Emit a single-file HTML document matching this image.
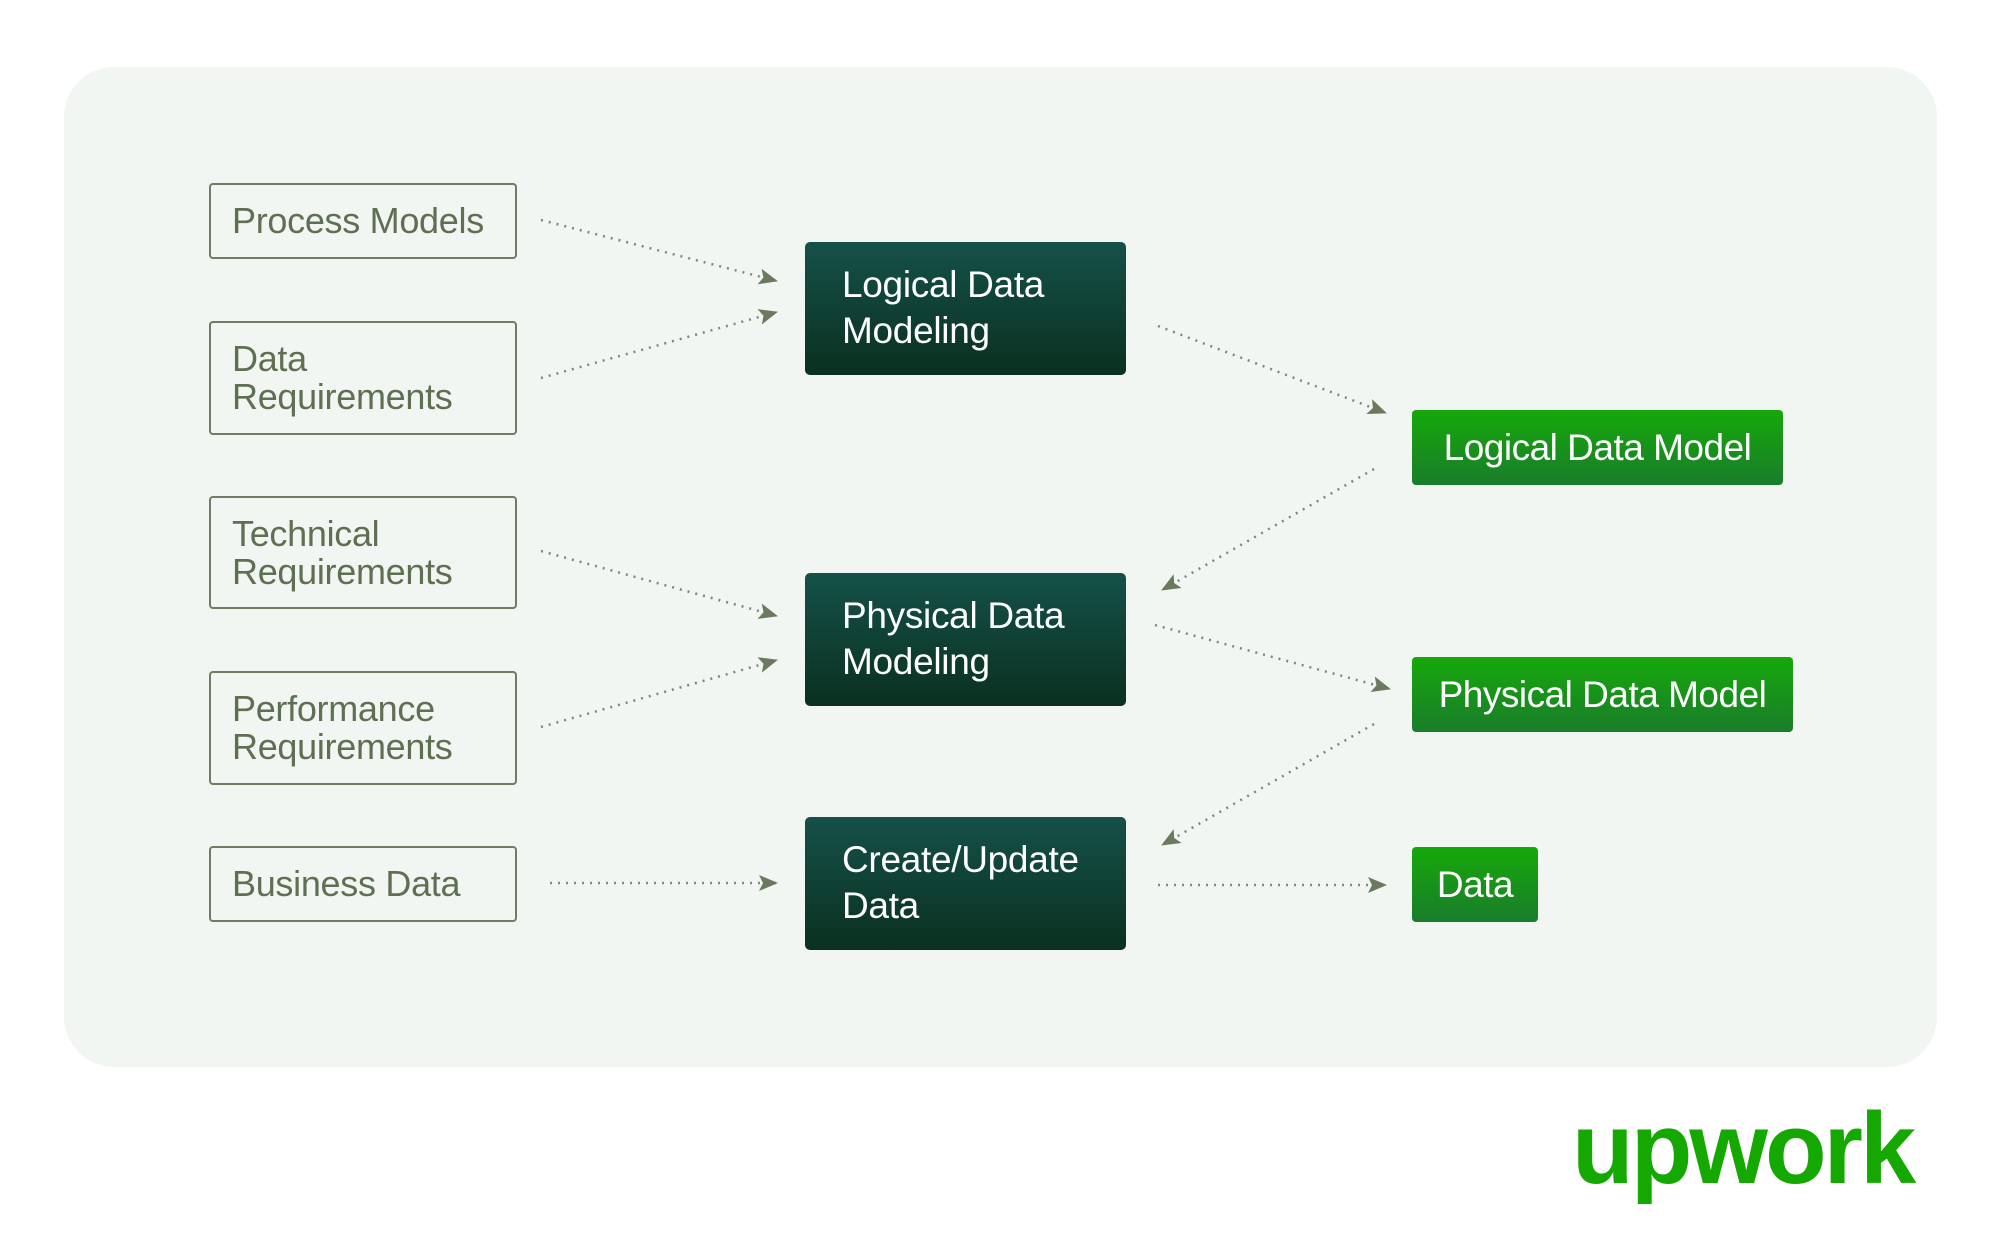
<!DOCTYPE html>
<html><head><meta charset="utf-8"><style>
body{margin:0;width:2001px;height:1257px;background:#fff;position:relative;overflow:hidden;font-family:"Liberation Sans",sans-serif}
.panel{position:absolute;left:64px;top:67px;width:1873px;height:1000px;background:#f1f6f2;border-radius:50px}
.l{position:absolute;left:209px;width:308px;border:2px solid #6f7d63;border-radius:4px;box-sizing:border-box;color:#5f6f52;font-size:36px;line-height:38px;letter-spacing:-0.3px;padding-left:21px;display:flex;align-items:center}
.d{position:absolute;left:805px;width:321px;height:133px;border-radius:5px;background:linear-gradient(#155149,#0a3020);color:#fff;font-size:37px;line-height:46px;letter-spacing:-0.3px;box-sizing:border-box;padding:20px 0 0 37px}
.g{position:absolute;left:1412px;height:75px;border-radius:4px;background:linear-gradient(#16a80a,#1a7d2b);color:#fff;font-size:37px;letter-spacing:-0.5px;display:flex;align-items:center;justify-content:center}
svg{position:absolute;left:0;top:0}
</style></head><body>
<div class="panel"></div>
<div class="l" style="top:183px;height:76px">Process Models</div>
<div class="l" style="top:321px;height:114px">Data<br>Requirements</div>
<div class="l" style="top:496px;height:113px">Technical<br>Requirements</div>
<div class="l" style="top:671px;height:114px">Performance<br>Requirements</div>
<div class="l" style="top:846px;height:76px">Business Data</div>
<div class="d" style="top:242px">Logical Data<br>Modeling</div>
<div class="d" style="top:573px">Physical Data<br>Modeling</div>
<div class="d" style="top:817px">Create/Update<br>Data</div>
<div class="g" style="top:410px;width:371px">Logical Data Model</div>
<div class="g" style="top:657px;width:381px">Physical Data Model</div>
<div class="g" style="top:847px;width:126px">Data</div>
<svg width="2001" height="1257">
<defs>
<marker id="b" markerWidth="20" markerHeight="20" refX="18" refY="10" orient="auto" markerUnits="userSpaceOnUse"><path d="M0,2 L19,10 L0,18 L4,10 Z" fill="#6b7a5e"/></marker></defs>
<g stroke="#7d8a72" stroke-width="2.5" stroke-dasharray="2 6" fill="none" marker-end="url(#b)">
<line x1="541" y1="220" x2="777" y2="281"/>
<line x1="541" y1="378" x2="777" y2="312"/>
<line x1="541" y1="551" x2="777" y2="616"/>
<line x1="541" y1="727" x2="777" y2="660"/>
<line x1="550" y1="883" x2="777" y2="883"/>
<line x1="1158" y1="326" x2="1386" y2="413"/>
<line x1="1374" y1="469" x2="1162" y2="590"/>
<line x1="1155" y1="625" x2="1390" y2="689"/>
<line x1="1374" y1="724" x2="1162" y2="845"/>
<line x1="1158" y1="885" x2="1386" y2="885"/>
</g>
<text x="1572" y="1183" font-family="Liberation Sans, sans-serif" font-weight="bold" font-size="101" fill="#14a800" letter-spacing="-3">upwork</text>
</svg>
</body></html>
